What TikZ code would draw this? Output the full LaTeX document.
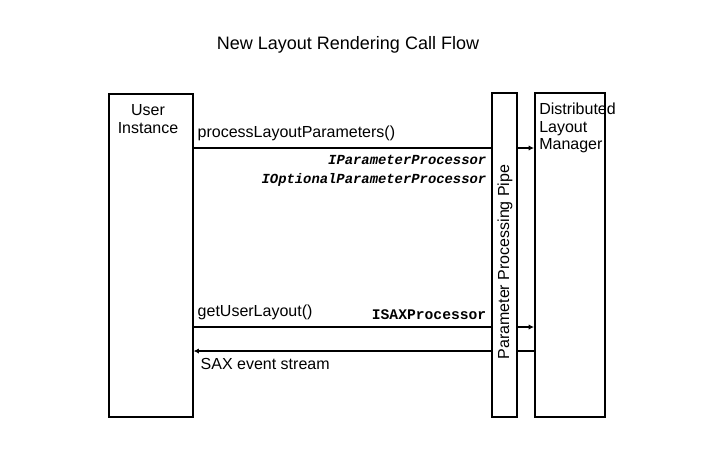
\documentclass[tikz,border=0pt]{standalone}
\usepackage{fontspec}
\setmainfont{Liberation Sans}
\newfontfamily\ifacefont{Liberation Mono}
\usetikzlibrary{arrows.meta}
\tikzset{
    lane/.style={draw, line width=1.2pt, inner sep=0pt, anchor=north west},
    msg/.style={line width=1.2pt},
    head/.style={-{Latex[length=4pt,width=4pt]}},
    iface/.style={font=\ifacefont\bfseries\itshape\fontsize{10.4}{13}\selectfont, anchor=east}
}
\begin{document}
\begin{tikzpicture}[x=0.75pt, y=-0.75pt, font=\fontsize{12}{13}\selectfont]
        \useasboundingbox (0,0) rectangle (720,458);
        \node[anchor=center, font=\fontsize{13.5}{15}\selectfont] (title) at (348, 45) {New Layout Rendering Call Flow};
        % the three lanes
        \node[lane, minimum width=63pt, minimum height=242.25pt] (ui) at (108, 93) {};
        \node[lane, minimum width=18.75pt, minimum height=243pt] (pipe) at (491, 92) {};
        \node[lane, minimum width=52.5pt, minimum height=243pt] (dlm) at (534, 92) {};
        \node[anchor=center, align=center] (uitext) at (148, 119) {User\\[1pt]Instance};
        \node[anchor=north west, align=left, inner sep=0pt] (dlmtext) at (539, 103) {Distributed\\Layout\\Manager};
        \node[anchor=center, rotate=90] (pipetext) at (505, 262) {Parameter Processing Pipe};
        % calls
        \draw[msg] (ui.east |- 0,148) -- (pipe.west |- 0,148);
        \draw[msg, head] (pipe.east |- 0,148) -- (dlm.west |- 0,148);
        \node[anchor=west] (call1) at (193, 133) {processLayoutParameters()};
        \node[iface] (ipp) at (491, 160) {IParameterProcessor};
        \node[iface] (iopp) at (491, 180) {IOptionalParameterProcessor};
        \draw[msg] (ui.east |- 0,327) -- (pipe.west |- 0,327);
        \draw[msg, head] (pipe.east |- 0,327) -- (dlm.west |- 0,327);
        \node[anchor=west] (call2) at (193, 312) {getUserLayout()};
        \node[anchor=east, font=\ifacefont\bfseries\fontsize{11}{13}\selectfont] (isax) at (491, 315) {ISAXProcessor};
        % event stream back
        \draw[msg] (dlm.west |- 0,351) -- (pipe.east |- 0,351);
        \draw[msg, head] (pipe.west |- 0,351) -- (ui.east |- 0,351);
        \node[anchor=west] (ret) at (196, 364) {SAX event stream};
    \end{tikzpicture}
\end{document}
